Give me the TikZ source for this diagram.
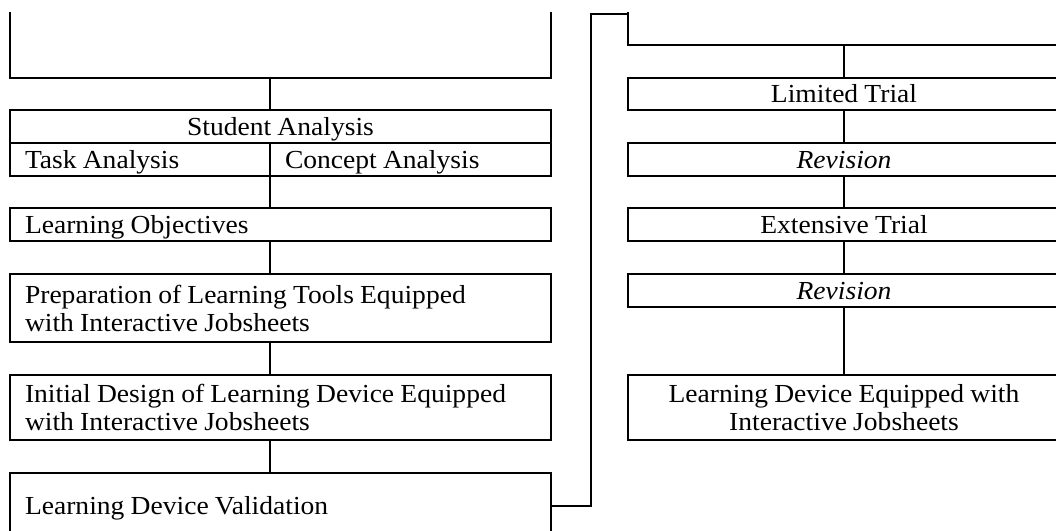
\documentclass[tikz,border=0pt]{standalone}
\usepackage{fontspec}
\setmainfont{Liberation Serif}[WordSpace=0.9, FakeStretch=1.06]

\tikzset{
  stage/.style={draw, rectangle, outer sep=0pt, inner ysep=0pt,
    font=\fontsize{26}{28}\selectfont},
  oneline/.style={text height=19pt, text depth=2pt},
  twoline/.style={text height=18pt, text depth=28pt},
  twolinemid/.style={text height=46pt, text depth=0pt},
  stageleft/.style={stage, text width=511pt, inner xsep=15pt, align=flush left},
  stagemid/.style={stage, align=center},
}

\begin{document}
\begin{tikzpicture}[x=1pt, y=-1pt, line width=2pt]
  \useasboundingbox (0,0) rectangle (1056,530);
  \clip (0,12.5) rectangle (1056,530);

  % Left column
  \node[stage, minimum width=541pt, minimum height=130pt] (topL) at (280.5,13) {};
  \node[stagemid, oneline, minimum width=541pt, minimum height=33pt] (stu) at (280.5,126.5) {Student Analysis};
  \node[stageleft, oneline, text width=230pt, minimum height=33pt] (task) at (140,159.5) {Task Analysis};
  \node[stageleft, oneline, text width=251pt, minimum height=33pt] (concept) at (410.5,159.5) {Concept Analysis};
  \node[stageleft, oneline, minimum height=33pt] (obj) at (280.5,224.5) {Learning Objectives};
  \node[stageleft, twoline, minimum height=68pt] (prep) at (280.5,308) {Preparation of Learning Tools Equipped\\with Interactive Jobsheets};
  \node[stageleft, twoline, minimum height=65pt] (init) at (280.5,407.5) {Initial Design of Learning Device Equipped\\with Interactive Jobsheets};
  \node[stageleft, oneline, minimum height=65pt] (valid) at (280.5,505.5) {Learning Device Validation};

  % Right column
  \node[stagemid, minimum width=432pt, minimum height=63pt] (topR) at (844,13.5) {};
  \node[stagemid, oneline, minimum width=432pt, minimum height=32pt] (lim) at (844,94) {Limited Trial};
  \node[stagemid, oneline, minimum width=432pt, minimum height=33pt] (rev1) at (844,159.5) {\itshape Revision};
  \node[stagemid, oneline, minimum width=432pt, minimum height=33pt] (ext) at (844,224.5) {Extensive Trial};
  \node[stagemid, oneline, minimum width=432pt, minimum height=33pt] (rev2) at (844,290.5) {\itshape Revision};
  \node[stagemid, twolinemid, minimum width=432pt, minimum height=65pt] (final) at (844,407.5) {Learning Device Equipped with\\Interactive Jobsheets};

  % Connectors
  \draw (topL.south -| task.east) -- (stu.north -| task.east);
  \draw (task.south east) -- (obj.north -| task.east);
  \draw (obj.south -| task.east) -- (prep.north -| task.east);
  \draw (prep.south -| task.east) -- (init.north -| task.east);
  \draw (init.south -| task.east) -- (valid.north -| task.east);
  \draw (valid.east) -- ++(40,0) |- (topR.west);
  \draw (topR.south) -- (lim.north);
  \draw (lim.south) -- (rev1.north);
  \draw (rev1.south) -- (ext.north);
  \draw (ext.south) -- (rev2.north);
  \draw (rev2.south) -- (final.north);
\end{tikzpicture}
\end{document}
